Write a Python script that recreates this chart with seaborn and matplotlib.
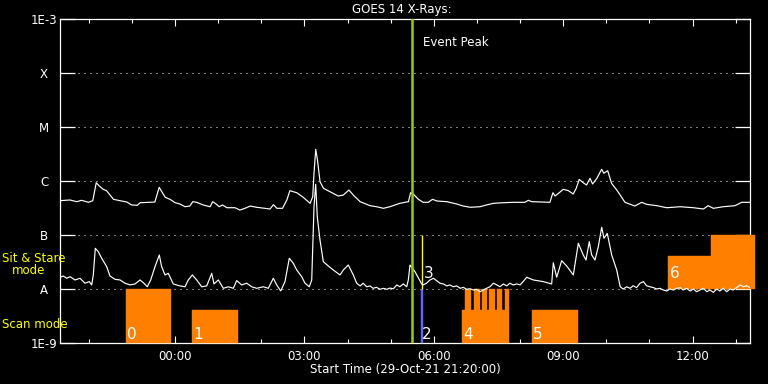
import numpy as np
import pandas as pd
import matplotlib
matplotlib.use("Agg")
import matplotlib.pyplot as plt
import seaborn as sns
from matplotlib.ticker import NullLocator, FixedLocator

# ---------------- data (hours after 29-Oct-21 21:20:00) ----------------
long_t = [0, 0.23, 0.39, 0.50, 0.66, 0.76, 0.84, 0.91, 1.00, 1.08, 1.16, 1.24, 1.39, 1.55, 1.66, 1.79,
          1.86, 2.20, 2.27, 2.30, 2.36, 2.44, 2.55, 2.67, 2.78, 2.90, 3.01, 3.08, 3.17, 3.32, 3.48, 3.54,
          3.62, 3.69, 3.77, 3.87, 4.06, 4.17, 4.29, 4.41, 4.56, 4.75, 4.87, 4.95, 5.03, 5.16, 5.26,
          5.33, 5.49, 5.64, 5.80, 5.86, 5.89, 5.93, 5.97, 6.03, 6.11, 6.26, 6.45, 6.57, 6.70, 6.80, 6.96,
          7.19, 7.34, 7.50, 7.65, 7.88, 8.08, 8.13, 8.19, 8.31, 8.42, 8.54, 8.64, 8.74, 8.97, 9.20, 9.35,
          9.51, 9.74, 9.89, 10.05, 10.28, 10.51, 10.78,
          10.86, 10.94, 11.36, 11.43, 11.48, 11.56, 11.67, 11.79, 11.90, 11.97, 12.04, 12.13, 12.21, 12.29,
          12.35, 12.45, 12.56, 12.61, 12.70, 12.79, 12.91, 12.99, 13.10, 13.33, 13.49, 13.60, 13.84, 14.07,
          14.38, 14.69, 14.92, 15.03, 15.15, 15.38, 15.65, 15.81, 16.0]
# 1-8 A flux in units of 1e-7 W/m^2
long_flux_e7 = [4.32, 4.45, 4.14, 4.39, 4.03, 4.32, 9.3, 8.08, 7.02, 6.61, 5.5, 4.58, 4.32, 4.08, 3.6, 3.55,
                3.96, 4.08, 6.34, 7.64, 6.34, 4.99, 4.58, 3.96, 3.75, 3.34, 3.44, 4.14, 4.03, 3.6, 3.34, 4.14,
                3.75, 3.34, 3.6, 3.2, 3.2, 2.9, 3.12, 3.44, 3.26, 3.12, 3.03, 3.64, 3.12, 3.12, 4.45,
                6.61, 6.07, 4.99, 3.86, 5.12, 13.9, 38.6, 24.5, 9.7, 7.32, 6.34, 5.27, 5.5, 6.81, 5.5, 4.14,
                3.49, 3.34, 3.12, 3.34, 3.86, 4.14, 6.07, 5.74, 4.58, 4.03, 4.03, 4.58, 4.26, 4.14, 3.75, 3.44,
                3.26, 3.34, 3.6, 3.86, 3.96, 4.03, 4.03,
                4.39, 4.14, 4.03, 6.07, 5.27, 5.92, 7.02, 6.61, 5.74, 7.32, 10.7, 9.3, 8.43, 11.2,
                8.8, 11.2, 16.5, 13.9, 15.5, 9.06, 6.81, 5.5, 4.03, 3.44, 4.03, 3.70, 3.49, 3.2,
                3.34, 3.2, 3.03, 3.49, 3.12, 3.34, 3.49, 4.03, 4.03]

short_t = [0, 0.077, 0.155, 0.232, 0.348, 0.464, 0.58, 0.679, 0.735, 0.772, 0.819, 0.888, 0.967, 1.083,
           1.159, 1.275, 1.391, 1.507, 1.623, 1.739, 1.855, 1.932, 2.024, 2.103, 2.203, 2.303, 2.357, 2.435,
           2.511, 2.627, 2.783, 2.899, 2.975, 3.068, 3.17, 3.286, 3.402, 3.518, 3.571, 3.671, 3.787, 3.903,
           4.019, 4.097, 4.213, 4.329, 4.445, 4.561, 4.714, 4.83, 4.946, 5.025, 5.118, 5.217, 5.317, 5.41,
           5.489, 5.605, 5.681, 5.781, 5.837, 5.89, 5.929, 5.966, 6.029, 6.106, 6.222, 6.337, 6.493, 6.57,
           6.685, 6.801, 6.88, 6.96, 7.03, 7.11, 7.19, 7.26, 7.34, 7.42, 7.50, 7.58, 7.65, 7.73, 7.81,
           7.88, 7.96, 8.04, 8.077, 8.116, 8.232, 8.387, 8.42, 8.50, 8.58, 8.66, 8.73, 8.81, 8.89, 8.97,
           9.04, 9.12, 9.20, 9.28, 9.35, 9.43, 9.51, 9.58, 9.66, 9.74, 9.82, 9.89, 9.97, 10.05, 10.13,
           10.20, 10.28, 10.36, 10.43, 10.51, 10.59, 10.67, 10.74,
           10.822, 10.975, 11.207, 11.401, 11.439, 11.517, 11.633, 11.749, 11.903, 12.019, 12.134, 12.197,
           12.273, 12.329, 12.406, 12.482, 12.561, 12.614, 12.691, 12.793, 12.909,
           12.99, 13.06, 13.14, 13.22, 13.29, 13.37, 13.45, 13.53, 13.60, 13.68, 13.76, 13.84, 13.91,
           13.99, 14.07, 14.14, 14.22, 14.30, 14.38, 14.45, 14.53, 14.61, 14.69, 14.76, 14.84, 14.92,
           15.0, 15.07, 15.15, 15.23, 15.30, 15.38, 15.46, 15.54, 15.61, 15.69, 15.77, 15.85, 15.92, 16.0]
# 0.5-4 A flux in units of 1e-8 W/m^2
short_flux_e8 = [1.65, 1.74, 1.58, 1.69, 1.47, 1.58, 1.28, 1.37, 1.19, 1.82, 5.67, 4.91, 3.70, 2.59,
                 1.74, 1.51, 1.47, 1.28, 1.19, 1.24, 1.47, 1.31, 1.10, 1.47, 2.59, 4.26, 2.59, 1.82,
                 1.95, 1.24, 1.14, 1.10, 1.47, 1.82, 1.47, 1.10, 1.14, 1.95, 1.24, 1.47, 1.03, 1.10,
                 1.03, 1.43, 1.19, 1.28, 1.10, 1.03, 1.10, 1.03, 1.58, 1.19, 0.92, 1.37, 3.70, 2.99,
                 2.25, 1.69, 1.28, 1.10, 1.47, 33.4, 86.9, 21.8, 8.08, 3.2, 2.67, 2.25, 1.82, 2.25,
                 2.78, 1.82, 1.28, 1.14, 1.28, 1.10, 1.14, 1.03, 1.075, 0.987, 1.03, 0.987, 1.04, 1.01, 1.19,
                 1.10, 1.24, 1.10, 1.47, 2.78, 2.09, 1.24, 1.19, 1.28, 1.47, 1.58, 1.43, 1.28, 1.24, 1.14,
                 1.19, 1.10, 1.14, 1.03, 1.075, 0.987, 1.01, 0.958, 0.987, 0.891, 0.958, 1.03, 1.10, 1.28, 1.19,
                 1.10, 1.24, 1.14, 1.28, 1.19, 1.24, 1.19, 1.37,
                 1.65, 1.47, 1.37, 1.24, 3.07, 1.65, 3.34, 2.67, 1.82, 7.02, 4.26, 3.44,
                 7.51, 4.26, 3.44, 6.07, 13.9, 8.69, 10.7, 4.26, 2.25,
                 1.10, 1.00, 1.10, 1.03, 1.15, 1.06, 1.28, 1.37, 1.15, 1.10, 1.06, 1.00, 1.03,
                 0.958, 0.918, 1.00, 0.958, 1.03, 1.06, 0.958, 1.03, 0.918, 1.00, 0.891, 0.958, 1.03,
                 0.891, 0.958, 0.869, 1.00, 0.918, 1.03, 0.891, 1.00, 0.958, 1.06, 1.19, 1.10, 1.15, 1.06]

# observation blocks (hours, flux band)
rect_start  = [1.53, 3.06, 8.36, 9.32, 9.40, 9.59, 9.78, 9.94, 10.13, 10.31, 10.94, 14.11, 15.10]
rect_end    = [2.57, 4.12, 8.42, 10.41, 9.54, 9.73, 9.89, 10.08, 10.24, 10.41, 12.01, 16.12, 16.12]
rect_bottom = [1e-9, 1e-9, 1e-9, 1e-9, 4.1e-9, 4.1e-9, 4.1e-9, 4.1e-9, 4.1e-9, 4.1e-9, 1e-9, 1e-8, 4.1e-8]
rect_top    = [1e-8, 4.1e-9, 1e-8, 4.1e-9, 1e-8, 1e-8, 1e-8, 1e-8, 1e-8, 1e-8, 4.1e-9, 4.1e-8, 1e-7]
rect_color  = ['#ff8000', '#ff8000', '#6464ff', '#ff8000', '#ff8000', '#ff8000', '#ff8000',
               '#ff8000', '#ff8000', '#ff8000', '#ff8000', '#ff8000', '#ff8000']

obs3_time = 8.40
obs3_range = (1e-8, 1e-7)

obs_labels = ['0', '1', '2', '3', '4', '5', '6']
obs_label_t = [1.53, 3.06, 8.36, 8.40, 9.32, 10.94, 14.11]
obs_label_band = ['scan', 'scan', 'scan', 'sit', 'scan', 'scan', 'sit']

event_peak = 8.16

xtick_major = [2.667, 5.667, 8.667, 11.667, 14.667]
xtick_labels = ['00:00', '03:00', '06:00', '09:00', '12:00']
xtick_minor = [0.667, 1.667, 3.667, 4.667, 6.667, 7.667, 9.667, 10.667, 12.667, 13.667, 15.667]

ytick_vals = [1e-9, 1e-8, 1e-7, 1e-6, 1e-5, 1e-4, 1e-3]
ytick_labels = ['1E-9', 'A', 'B', 'C', 'M', 'X', '1E-3']
grid_levels = [1e-8, 1e-7, 1e-6, 1e-5, 1e-4]

# ---------------- drawing ----------------
sns.set_theme(style='dark', rc={'axes.facecolor': 'black', 'figure.facecolor': 'black',
                                'axes.edgecolor': 'white', 'text.color': 'white',
                                'xtick.color': 'white', 'ytick.color': 'white',
                                'axes.grid': False})
plt.rcParams['font.family'] = ['DejaVu Sans']

fig = plt.figure(figsize=(7.68, 3.84), dpi=100)
fig.patch.set_facecolor('black')
ax = fig.add_axes([60/768, 41/384, 690/768, 324/384])
ax.set_facecolor('black')
ax.set_yscale('log')
ax.set_xlim(0, 16)
ax.set_ylim(1e-9, 1e-3)

# dotted grid levels
for lv in grid_levels:
    ax.axhline(lv, color='white', lw=0.72, ls=(0, (1, 5)), zorder=1)

# observation blocks
for s, e, b, t, c in zip(rect_start, rect_end, rect_bottom, rect_top, rect_color):
    ax.bar(s, t - b, bottom=b, width=e - s, align='edge', color=c, edgecolor=c,
           linewidth=0.3, zorder=3, clip_on=False)
ax.vlines(obs3_time, obs3_range[0], obs3_range[1], color='yellow', lw=1.0, zorder=3)

df_long = pd.DataFrame({'t': long_t, 'flux': np.array(long_flux_e7) * 1e-7})
df_short = pd.DataFrame({'t': short_t, 'flux': np.array(short_flux_e8) * 1e-8})
sns.lineplot(data=df_long, x='t', y='flux', ax=ax, color='white', lw=0.85,
             estimator=None, sort=False, zorder=4)
sns.lineplot(data=df_short, x='t', y='flux', ax=ax, color='white', lw=0.85,
             estimator=None, sort=False, zorder=4)

ax.axvline(event_peak, color='#9acd00', lw=1.8, zorder=5)
ax.annotate('Event Peak', xy=(event_peak, 1), xycoords=('data', 'axes fraction'),
            xytext=(8, -17), textcoords='offset points', ha='left', va='center',
            color='white', fontsize=8.5)

for lbl, t, band in zip(obs_labels, obs_label_t, obs_label_band):
    base = 1e-9 if band == 'scan' else 1e-8
    off = 3 if band == 'scan' else 8
    ax.annotate(lbl, xy=(t, base), xytext=(0.8, off), textcoords='offset points',
                ha='left', va='baseline', color='white', fontsize=11, zorder=6)

# axes styling
for sp in ax.spines.values():
    sp.set_color('white')
    sp.set_linewidth(0.9)
    sp.set_visible(True)
ax.xaxis.set_major_locator(FixedLocator(xtick_major))
ax.xaxis.set_minor_locator(FixedLocator(xtick_minor))
ax.set_xticklabels(xtick_labels)
ax.tick_params(axis='x', which='major', direction='in', length=5, width=0.8,
               top=True, bottom=True, labelsize=8.5, pad=5, colors='white')
ax.tick_params(axis='x', which='minor', direction='in', length=2.8, width=0.8,
               top=True, bottom=True, colors='white')
ax.yaxis.set_major_locator(FixedLocator(ytick_vals))
ax.yaxis.set_minor_locator(NullLocator())
ax.set_yticklabels(ytick_labels)
ax.tick_params(axis='y', which='major', direction='in', length=10.5, width=0.9,
               left=True, right=True, labelsize=8.5, pad=11.5, colors='white')
for lab in ax.get_yticklabels():
    lab.set_horizontalalignment('center')
ax.set_xlabel('')
ax.set_ylabel('')

fig.text(402/768, 1 - 10/384, 'GOES 14 X-Rays:', ha='center', va='center', color='white', fontsize=8.5)
fig.text(405/768, 1 - 369/384, 'Start Time (29-Oct-21 21:20:00)', ha='center', va='center',
         color='white', fontsize=8.5)
fig.text(2/768, 1 - 259/384, 'Sit & Stare', ha='left', va='center', color='yellow', fontsize=8.5)
fig.text(12/768, 1 - 271/384, 'mode', ha='left', va='center', color='yellow', fontsize=8.5)
fig.text(2/768, 1 - 324/384, 'Scan mode', ha='left', va='center', color='yellow', fontsize=8.5)

fig.savefig('out.png', dpi=100, facecolor='black')
